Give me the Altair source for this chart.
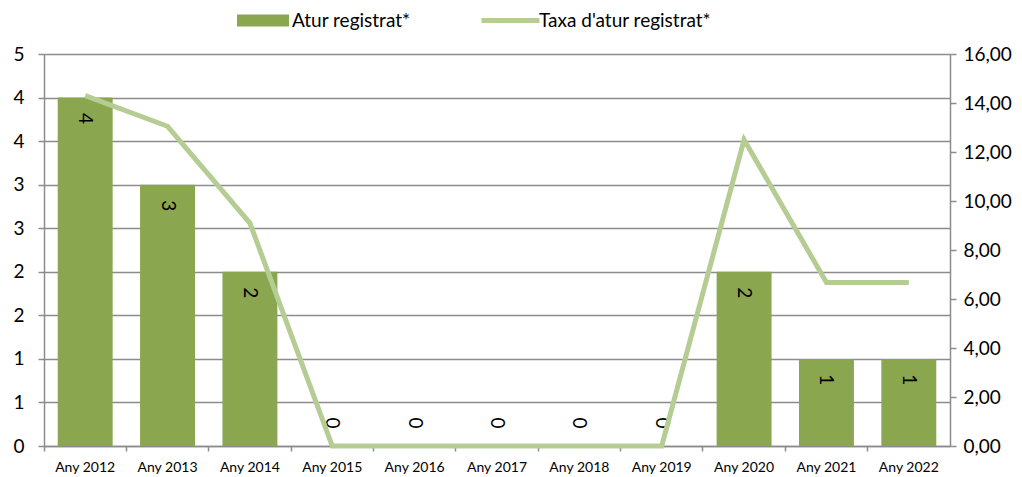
import altair as alt
import pandas as pd

years = ["Any 2012", "Any 2013", "Any 2014", "Any 2015", "Any 2016", "Any 2017",
         "Any 2018", "Any 2019", "Any 2020", "Any 2021", "Any 2022"]
atur = [4, 3, 2, 0, 0, 0, 0, 0, 2, 1, 1]
taxa = [14.3, 13.05, 9.1, 0, 0, 0, 0, 0, 12.5, 6.67, 6.67]
left_ticks = [0, 0.5, 1, 1.5, 2, 2.5, 3, 3.5, 4, 4.5]
right_ticks = [0, 2, 4, 6, 8, 10, 12, 14, 16]

BAR = "#8aa64e"
LINE = "#b5cc93"
GRID = "#8c8c8c"
FONT = "Lato"

df = pd.DataFrame({"year": years, "atur": atur, "taxa": taxa,
                   "s1": ["Atur registrat*"] * len(years),
                   "s2": ["Taxa d'atur registrat*"] * len(years)})

x = alt.X("year:N", sort=years, title=None,
          scale=alt.Scale(paddingInner=0, paddingOuter=0),
          axis=alt.Axis(bandPosition=0, labelAngle=0, labelFontSize=14, labelFont=FONT,
                        labelColor="#000", domainColor=GRID, domainWidth=1.5,
                        tickColor=GRID, tickWidth=1.5, tickSize=5, labelPadding=9,
                        grid=False))

yl = alt.Y("atur:Q", title=None,
           scale=alt.Scale(domain=[0, 4.5], nice=False),
           axis=alt.Axis(values=left_ticks, labelExpr="round(datum.value)",
                         labelFontSize=19, labelFont=FONT, labelColor="#000",
                         domainColor=GRID, domainWidth=1.5, tickColor=GRID,
                         tickWidth=1.5, tickSize=6, labelPadding=14,
                         grid=True, gridColor=GRID, gridWidth=1.5))

bars = alt.Chart(df).mark_bar(color=BAR, width={"band": 0.667}).encode(
    x=x, y=yl,
    fill=alt.Fill("s1:N", scale=alt.Scale(range=[BAR]),
                  legend=alt.Legend(title=None, orient="none", legendX=209.5, legendY=-43,
                                    symbolType="M-4,-0.92H4V0.92H-4Z", symbolSize=169,
                                    symbolStrokeWidth=0, labelFontSize=19, labelFont=FONT,
                                    labelColor="#000", labelOffset=19.5, padding=0,
                                    labelLimit=0)))

lab_pos = alt.Chart(df).transform_filter("datum.atur > 0").mark_text(
    angle=90, dx=21, fontSize=19, font=FONT, color="#000", align="center", baseline="middle"
).encode(x=x, y=alt.Y("atur:Q"), text=alt.Text("atur:Q"))

lab_zero = alt.Chart(df).transform_filter("datum.atur == 0").mark_text(
    angle=90, dx=-23, fontSize=19, font=FONT, color="#000", align="center", baseline="middle"
).encode(x=x, y=alt.Y("atur:Q"), text=alt.Text("atur:Q"))

left = alt.layer(bars, lab_pos, lab_zero)

line = alt.Chart(df).mark_line(strokeWidth=5, strokeJoin="miter").encode(
    x=x,
    y=alt.Y("taxa:Q", title=None,
            scale=alt.Scale(domain=[0, 16], nice=False),
            axis=alt.Axis(orient="right", values=right_ticks,
                          labelExpr="replace(format(datum.value, '.2f'), '.', ',')",
                          labelFontSize=19, labelFont=FONT, labelColor="#000",
                          domainColor=GRID, domainWidth=1.5, tickColor=GRID,
                          tickWidth=1.5, tickSize=6, labelPadding=7, grid=False)),
    stroke=alt.Stroke("s2:N", scale=alt.Scale(range=[LINE]),
                      legend=alt.Legend(title=None, orient="none", legendX=457, legendY=-43,
                                        symbolType="M-4.46,0H4.46", symbolSize=169,
                                        symbolStrokeWidth=5, labelFontSize=19, labelFont=FONT,
                                        labelColor="#000", labelOffset=19, padding=0,
                                        labelLimit=0)))

chart = alt.layer(left, line).resolve_scale(
    y="independent", fill="independent", stroke="independent"
).properties(
    width=906, height=392,
    padding={"left": 36, "top": 46, "right": 62, "bottom": 29},
    autosize=alt.AutoSizeParams(type="none"),
).configure_view(stroke=None).configure(background="white")

chart.save("out.html", embed_options={"renderer": "svg", "actions": False})
